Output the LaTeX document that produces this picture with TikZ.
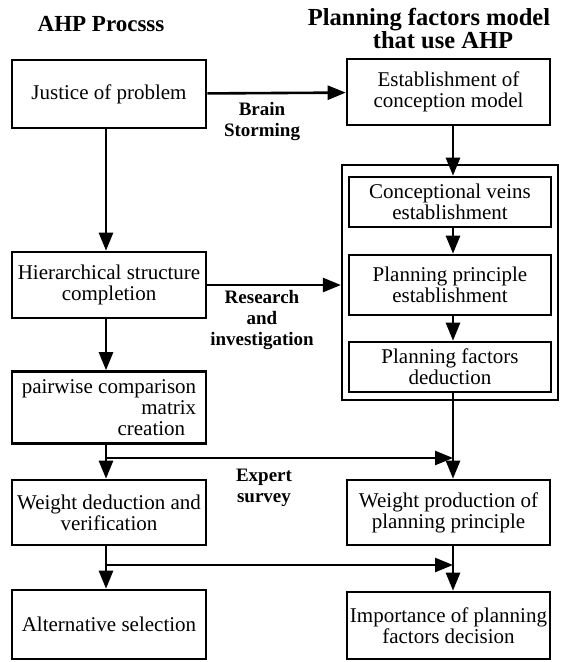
\documentclass[tikz,border=0pt]{standalone}
\usepackage{fontspec}
\setmainfont{Liberation Serif}
\usetikzlibrary{arrows.meta}

\begin{document}
\begin{tikzpicture}[x=1pt,y=-1pt,>={Triangle[length=18pt,width=14pt]}]

    \useasboundingbox (0,0) rectangle (562,662);

    % headings
    \begin{scope}[every node/.style={font=\bfseries\fontsize{23}{23}\selectfont,align=center}]
        \node (t1) at (101,24) {AHP Procsss};
        \node[font=\bfseries\fontsize{24.5}{23}\selectfont] (t2) at (429,29)
            {Planning factors model\\\hspace*{28pt}that use AHP};
    \end{scope}

    % the two arrow columns
    \coordinate (lc) at (106,0);
    \coordinate (rc) at (453,0);

    % left column
    \begin{scope}[every node/.style={draw,line width=2.6pt,align=center,inner sep=2pt,
                  minimum width=194pt,font=\fontsize{21}{21}\selectfont}]
        \node[minimum height=68pt] (1) at (109,94)    {Justice of problem};
        \node[minimum height=66pt] (3) at (109,285)   {Hierarchical structure\\completion};
        \node[minimum height=72pt,align=right] (4) at (109,407.5)
            {pairwise comparison\\matrix\hspace*{15pt}\\creation\hspace*{11pt}};
        \node[minimum height=65pt] (5) at (109,512.5) {Weight deduction and\\verification};
        \node[minimum height=69pt] (6) at (109,624.5) {Alternative selection};
    \end{scope}

    % right column
    \node[draw,line width=2.2pt,minimum width=216pt,minimum height=235pt] (7) at (450,282.5) {};
    \begin{scope}[every node/.style={draw,line width=2.6pt,align=center,inner sep=2pt,
                  minimum width=203pt,font=\fontsize{21}{21}\selectfont}]
        \node[minimum height=66pt] (2)  at (448.5,92) {Establishment of\\conception model};
        \node[minimum height=50pt,minimum width=202pt] (8)  at (450,202) {Conceptional veins\\establishment};
        \node[minimum height=60pt,minimum width=202pt] (9)  at (450,285) {Planning principle\\establishment};
        \node[minimum height=50pt,minimum width=202pt] (10) at (450,367) {Planning factors\\deduction};
        \node[minimum height=65pt] (11) at (448.5,512.5) {Weight production of\\planning principle};
        \node[minimum height=67pt] (12) at (448.5,625.5) {Importance of planning\\factors decision};
    \end{scope}

    % labels on the arrows
    \begin{scope}[every node/.style={font=\bfseries\fontsize{19}{21}\selectfont,align=center}]
        \node (l1) at (262,122) {Brain\\Storming};
        \node (l2) at (262,320) {Research\\and\\investigation};
        \node (l3) at (264,488) {Expert\\survey};
    \end{scope}

    \coordinate (b1) at (106,458);
    \coordinate (b2) at (106,565);

    \begin{scope}[every edge/.style={draw,line width=2.6pt}]
        \path [->] (1) edge (2);
        \path [->] (3) edge (3 -| 7.west);
        \path [->] (1.south -| lc) edge (3.north -| lc);
        \path [->] (3.south -| lc) edge (4.north -| lc);
        \path [->] (4.south -| lc) edge (5.north -| lc);
        \path [->] (5.south -| lc) edge (6.north -| lc);
        \path [->] (2.south -| rc) edge (8.north -| rc);
        \path [->] (8.south -| rc) edge (9.north -| rc);
        \path [->] (9.south -| rc) edge (10.north -| rc);
        \path [->] (10.south -| rc) edge (11.north -| rc);
        \path [->] (11.south -| rc) edge (12.north -| rc);
        \path [->] (b1) edge (b1 -| rc);
        \path [->] (b2) edge (b2 -| rc);
    \end{scope}

\end{tikzpicture}
\end{document}
